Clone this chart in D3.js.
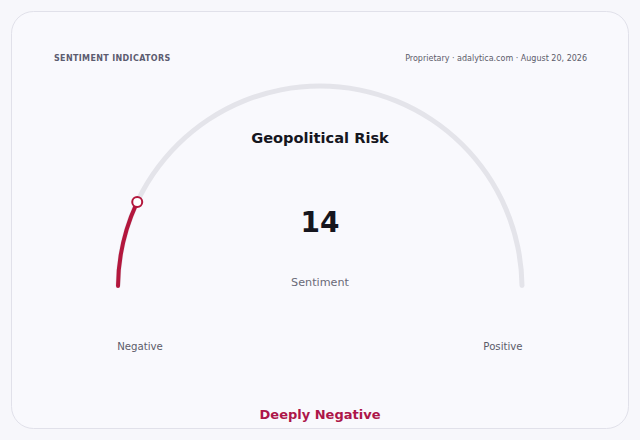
<!DOCTYPE html>
<html>
<head>
<meta charset="utf-8">
<script src="https://cdn.jsdelivr.net/npm/d3@7"></script>
<style>
  html, body { margin: 0; padding: 0; background: #f7f7fb; }
  svg { display: block; font-family: "DejaVu Sans", sans-serif; }
</style>
</head>
<body>
<svg id="chart"></svg>
<script>
// chart data
const header = 'SENTIMENT INDICATORS'
const source = 'Proprietary · adalytica.com · August 20, 2026'
const title = 'Geopolitical Risk'
const value = 14
const domain = [0, 100]
const axisLabels = ['Negative', 'Positive']
const metric = 'Sentiment'
const verdict = 'Deeply Negative'

const width = 640
const height = 440
const red = '#b3173d'

const svg = d3.select('#chart')
    .attr('width', width)
    .attr('height', height)

// card
svg.append('rect')
    .attr('x', 11.5).attr('y', 11.5)
    .attr('width', 617).attr('height', 417)
    .attr('rx', 22)
    .attr('fill', '#f9f9fd')
    .attr('stroke', '#e1e1ea')

// header
svg.append('text')
    .attr('x', 54).attr('y', 61)
    .attr('font-size', 8).attr('font-weight', 'bold')
    .attr('letter-spacing', 0.35)
    .attr('fill', '#5c5c70')
    .text(header)

svg.append('text')
    .attr('x', 587).attr('y', 61)
    .attr('text-anchor', 'end')
    .attr('font-size', 8)
    .attr('fill', '#5c5c6a')
    .text(source)

// gauge
const cx = 320, cy = 288, r = 202
const angle = d3.scaleLinear().domain(domain).range([-Math.PI / 2, Math.PI / 2])

const g = svg.append('g').attr('transform', `translate(${cx},${cy})`)

const track = d3.arc()
    .innerRadius(r - 2.5).outerRadius(r + 2.5)
    .cornerRadius(2.5)

g.append('path')
    .attr('d', track({startAngle: angle(domain[0]), endAngle: angle(domain[1])}))
    .attr('fill', '#e4e4ea')

const fill = d3.arc()
    .innerRadius(r - 2).outerRadius(r + 2)
    .cornerRadius(2)

g.append('path')
    .attr('d', fill({startAngle: angle(domain[0]), endAngle: angle(value)}))
    .attr('fill', red)

// marker at value
const a = angle(value)
g.append('circle')
    .attr('cx', r * Math.sin(a))
    .attr('cy', -r * Math.cos(a))
    .attr('r', 5)
    .attr('fill', '#ffffff')
    .attr('stroke', red)
    .attr('stroke-width', 2)

// center texts
svg.append('text')
    .attr('x', cx).attr('y', 143)
    .attr('text-anchor', 'middle')
    .attr('font-size', 14.6).attr('font-weight', 'bold')
    .attr('fill', '#16161e')
    .text(title)

svg.append('text')
    .attr('x', cx).attr('y', 232)
    .attr('text-anchor', 'middle')
    .attr('font-size', 28).attr('font-weight', 'bold')
    .attr('fill', '#16161e')
    .text(value)

svg.append('text')
    .attr('x', cx).attr('y', 286)
    .attr('text-anchor', 'middle')
    .attr('font-size', 11.2)
    .attr('fill', '#6a6a78')
    .text(metric)

// end labels
svg.selectAll('.end-label')
    .data(axisLabels)
    .join('text')
    .attr('class', 'end-label')
    .attr('x', (d, i) => cx + (i === 0 ? -180 : 183))
    .attr('y', 350)
    .attr('text-anchor', 'middle')
    .attr('font-size', 10.2)
    .attr('fill', '#5c5c6a')
    .text(d => d)

// verdict
svg.append('text')
    .attr('x', cx).attr('y', 419)
    .attr('text-anchor', 'middle')
    .attr('font-size', 13).attr('font-weight', 'bold')
    .attr('fill', '#ad1649')
    .text(verdict)
</script>
</body>
</html>
